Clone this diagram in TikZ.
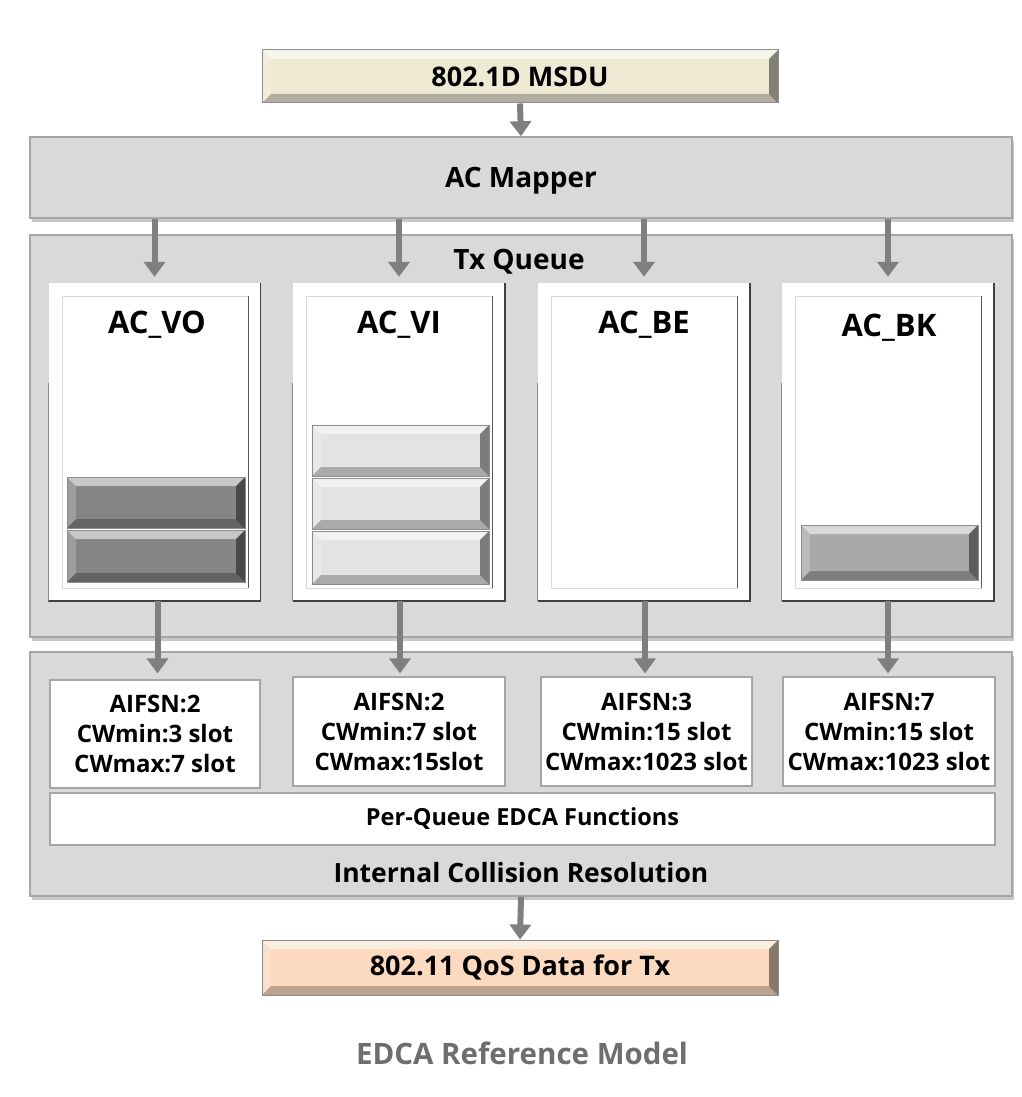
\documentclass[tikz,border=0pt]{standalone}
\usepackage{fontspec}
\setmainfont{Open Sans}
\usetikzlibrary{arrows.meta,shadows}
\definecolor{boxgray}{HTML}{D9D9D9}
\definecolor{boxline}{HTML}{A6A6A6}
\definecolor{arrowgray}{HTML}{7F7F7F}
\definecolor{msdu}{HTML}{EDE9D3}
\definecolor{qos}{HTML}{FBDAC0}
\definecolor{capgray}{HTML}{6E6E6E}
\definecolor{pkdark}{HTML}{858585}
\definecolor{pklight}{HTML}{E3E3E3}
\definecolor{pkmid}{HTML}{A9A9A9}
\newlength{\bv}
\setlength{\bv}{9pt}
\tikzset{
  bevel/.style={path picture={
    \coordinate (bsw) at (path picture bounding box.south west);
    \coordinate (bne) at (path picture bounding box.north east);
    \coordinate (bnw) at (path picture bounding box.north west);
    \coordinate (bse) at (path picture bounding box.south east);
    \fill[white,opacity=0.55] (bnw) -- (bne) -- ([shift={(-\bv,-\bv)}]bne) -- ([shift={(\bv,-\bv)}]bnw) -- cycle;
    \fill[white,opacity=0.2] (bnw) -- (bsw) -- ([shift={(\bv,\bv)}]bsw) -- ([shift={(\bv,-\bv)}]bnw) -- cycle;
    \fill[black,opacity=0.45] (bne) -- (bse) -- ([shift={(-\bv,\bv)}]bse) -- ([shift={(-\bv,-\bv)}]bne) -- cycle;
    \fill[black,opacity=0.25] (bsw) -- (bse) -- ([shift={(-\bv,\bv)}]bse) -- ([shift={(\bv,\bv)}]bsw) -- cycle;
  }},
  graybox/.style={draw=boxline, line width=1.5pt, fill=boxgray, inner sep=0pt,
    drop shadow={shadow xshift=2pt, shadow yshift=-4pt, fill=black, opacity=0.22}},
  endbox/.style={draw=black!45, line width=1pt, bevel, inner sep=0pt, font=\fontsize{27}{32}\selectfont\bfseries},
  colbox/.style={fill=white, inner sep=0pt},
  innerbox/.style={draw=black!15, line width=0.8pt, fill=white, inner sep=0pt},
  parbox/.style={draw=boxline, line width=1.2pt, fill=white, inner sep=0pt, align=center,
    font=\fontsize{24}{30}\selectfont\bfseries},
  packet/.style={bevel, draw=black!45, line width=0.8pt},
  flow/.style={draw=arrowgray, line width=6pt, -{Triangle[width=21pt,length=15pt]}},
  lbl/.style={inner sep=0pt, font=\fontsize{28}{33}\selectfont\bfseries},
  aclbl/.style={inner sep=0pt, font=\fontsize{31}{36}\selectfont\bfseries},
}
\begin{document}
\begin{tikzpicture}[x=1pt,y=-1pt]
\useasboundingbox[fill=white] (0,0) rectangle (1022,1097);

% top and bottom end boxes
\node[endbox, fill=msdu, minimum width=516pt, minimum height=53pt] (msdu) at (520,76.5) {802.1D MSDU};
\node[endbox, fill=qos, minimum width=516pt, minimum height=55pt] (qos) at (520,967.5) {802.11 QoS Data for Tx};

% large gray blocks
\node[graybox, minimum width=982pt, minimum height=81pt] (mapper) at (521,177.5) {};
\node[lbl] (mapperlbl) at (521,181) {AC Mapper};
\node[graybox, minimum width=982pt, minimum height=402pt] (txq) at (521,436) {};
\node[lbl] (txqlbl) at (519,262) {Tx Queue};
\node[graybox, minimum width=982pt, minimum height=244pt] (icr) at (521,774) {};
\node[lbl, font=\fontsize{26.5}{31}\selectfont\bfseries] (icrlbl) at (521,873) {Internal Collision Resolution};

% queue columns
\foreach \n/\cx in {vo/154.5, vi/399, be/644, bk/888}{
  \node[colbox, minimum width=212pt, minimum height=318pt] (\n) at (\cx,442) {};
  \draw[black!75, line width=1.5pt] (\n.north east) -- (\n.south east) -- (\n.south west);
  \draw[black!45, line width=1pt] ([yshift=-100pt]\n.north west) -- (\n.south west);
  \node[innerbox, minimum width=186pt, minimum height=292pt] (\n in) at ([xshift=0.5pt]\n.center) {};
  \draw[black!65, line width=1pt] (\n in.north east) -- (\n in.south east);
}
\node[aclbl] (volbl) at (157,325) {AC\_VO};
\node[aclbl] (vilbl) at (399,325) {AC\_VI};
\node[aclbl] (belbl) at (644,325) {AC\_BE};
\node[aclbl] (bklbl) at (889,328) {AC\_BK};

% packets
\path[packet, fill=pkdark] (67,477) rectangle (245,528);
\path[packet, fill=pkdark] (67,530) rectangle (245,582);
\path[packet, fill=pklight] (312,425) rectangle (489,476);
\path[packet, fill=pklight] (312,478) rectangle (489,529);
\path[packet, fill=pklight] (312,531) rectangle (489,584);
\path[packet, fill=pkmid] (801,525) rectangle (978,580);

% parameter boxes
\node[parbox, minimum width=210pt, minimum height=108pt] (p1) at (155,734) {AIFSN:2\\CWmin:3 slot\\CWmax:7 slot};
\node[parbox, minimum width=212pt, minimum height=109pt] (p2) at (399,731.5) {AIFSN:2\\CWmin:7 slot\\CWmax:15slot};
\node[parbox, minimum width=211pt, minimum height=109pt] (p3) at (646.5,731.5) {AIFSN:3\\CWmin:15 slot\\CWmax:1023 slot};
\node[parbox, minimum width=212pt, minimum height=109pt] (p4) at (889,731.5) {AIFSN:7\\CWmin:15 slot\\CWmax:1023 slot};
\node[parbox, minimum width=945pt, minimum height=52pt, font=\fontsize{23.5}{28}\selectfont\bfseries] (pq) at (522.5,819) {Per-Queue EDCA Functions};

% caption
\node[inner sep=0pt, text=capgray, font=\fontsize{29.5}{34}\selectfont\bfseries] (cap) at (522,1053) {EDCA Reference Model};

% connectors
\draw[flow] (msdu.south) -- (mapper.north);
\draw[flow] (icr.south) -- (qos.north);
\foreach \n in {vo,vi,be,bk}{
  \draw[flow] (mapper.south -| \n.north) -- ([yshift=6pt]\n.north);
}
\draw[flow] ([xshift=3pt]vo.south) -- ([xshift=3pt,yshift=6pt]p1.north -| vo.south);
\draw[flow] ([xshift=1pt]vi.south) -- ([xshift=1pt,yshift=3pt]p2.north -| vi.south);
\draw[flow] ([xshift=1pt]be.south) -- ([xshift=1pt,yshift=3pt]p3.north -| be.south);
\draw[flow] (bk.south) -- ([yshift=3pt]p4.north -| bk.south);
\end{tikzpicture}
\end{document}
